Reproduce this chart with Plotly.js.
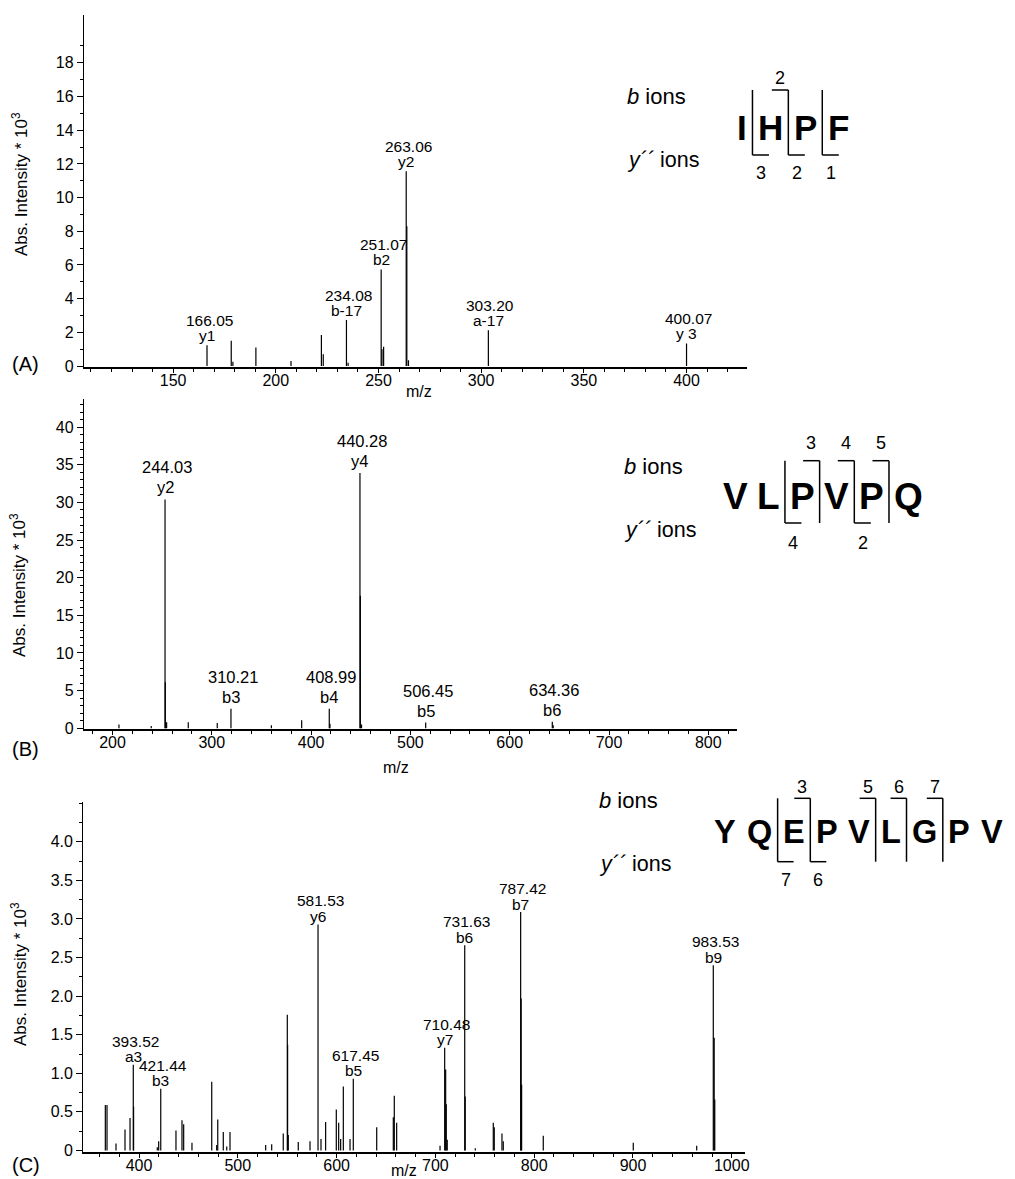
<!DOCTYPE html>
<html>
<head>
<meta charset="utf-8">
<script src="https://cdn.plot.ly/plotly-3.0.1.min.js"></script>
<style>html,body{margin:0;padding:0;background:#fff;}</style>
</head>
<body>
<div id="chart" style="width:1015px;height:1179px;"></div>
<script>
// ---------------- DATA ----------------
// Panel A : IHPF
const mzA  = [166.5, 178.3, 179.1, 190.3, 207.4, 222.2, 223.1, 234.4, 235.2, 251.3, 251.7, 252.5, 263.5, 263.8, 264.6, 303.5, 400.0];
const intA = [1.24, 1.50, 0.25, 1.10, 0.30, 1.84, 0.70, 2.73, 0.20, 5.73, 1.00, 1.15, 11.56, 8.30, 0.35, 2.13, 1.34];
const labMzA  = [166.5, 234.4, 251.3, 263.5, 303.5, 400.0];
const labNumA = ["166.05", "234.08", "251.07", "263.06", "303.20", "400.07"];
const labIonA = ["y1", "b-17", "b2", "y2", "a-17", "y 3"];
const seqA = ["I", "H", "P", "F"];
const bIonsA = [2];
const yIonsA = [3, 2, 1];
const xTicksA = [150, 200, 250, 300, 350, 400];
const yTicksA = [0, 2, 4, 6, 8, 10, 12, 14, 16, 18];

// Panel B : VLPVPQ
const mzB  = [206.5, 239.0, 252.9, 253.2, 254.5, 276.3, 305.5, 319.3, 360.0, 390.5, 418.3, 419.0, 449.2, 449.6, 450.8, 515.4, 642.9, 643.8];
const intB = [0.5, 0.3, 30.4, 6.1, 0.8, 0.8, 0.7, 2.6, 0.4, 1.06, 2.6, 0.6, 33.9, 17.6, 0.5, 0.75, 0.85, 0.4];
const labMzB  = [252.9, 319.3, 418.3, 449.2, 515.4, 642.9];
const labNumB = ["244.03", "310.21", "408.99", "440.28", "506.45", "634.36"];
const labIonB = ["y2", "b3", "b4", "y4", "b5", "b6"];
const seqB = ["V", "L", "P", "V", "P", "Q"];
const bIonsB = [3, 4, 5];
const yIonsB = [4, 2];
const xTicksB = [200, 300, 400, 500, 600, 700, 800];
const yTicksB = [0, 5, 10, 15, 20, 25, 30, 35, 40];

// Panel C : YQEPVLGPV
const mzC  = [365.9, 367.6, 376.7, 385.8, 390.9, 394.2, 394.5, 418.5, 419.9, 422.0, 437.4, 443.5, 445.2, 453.6, 473.6, 478.6, 479.7, 485.3, 488.8, 492.1, 528.2, 534.3, 546.0, 550.1, 550.4, 551.1, 561.2, 573.1, 581.2, 584.2, 588.9, 599.7, 602.1, 604.1, 606.8, 613.6, 616.9, 640.6, 657.4, 658.4, 660.8, 704.7, 709.4, 710.4, 711.0, 712.0, 729.7, 730.2, 740.4, 758.6, 759.6, 767.4, 768.7, 786.3, 786.8, 787.3, 809.2, 900.3, 964.5, 981.3, 982.2, 982.8];
const intC = [0.59, 0.59, 0.09, 0.27, 0.42, 1.11, 0.57, 0.04, 0.12, 0.80, 0.26, 0.39, 0.34, 0.10, 0.89, 0.07, 0.40, 0.24, 0.05, 0.24, 0.07, 0.08, 0.22, 1.76, 1.37, 0.20, 0.11, 0.12, 2.93, 0.15, 0.37, 0.53, 0.36, 0.15, 0.83, 0.15, 0.93, 0.30, 0.43, 0.71, 0.36, 0.06, 1.33, 1.05, 0.60, 0.14, 2.66, 0.70, 0.03, 0.36, 0.30, 0.22, 0.12, 3.09, 1.97, 0.85, 0.19, 0.10, 0.06, 2.40, 1.46, 0.66];
const labMzC  = [394.2, 422.0, 581.2, 616.9, 709.4, 729.7, 786.3, 981.3];
const labNumC = ["393.52", "421.44", "581.53", "617.45", "710.48", "731.63", "787.42", "983.53"];
const labIonC = ["a3", "b3", "y6", "b5", "y7", "b6", "b7", "b9"];
const seqC = ["Y", "Q", "E", "P", "V", "L", "G", "P", "V"];
const bIonsC = [3, 5, 6, 7];
const yIonsC = [7, 6];
const xTicksC = [400, 500, 600, 700, 800, 900, 1000];
const yTicksC = [0, 0.5, 1.0, 1.5, 2.0, 2.5, 3.0, 3.5, 4.0];
const yTickTextC = ["0", "0.5", "1.0", "1.5", "2.0", "2.5", "3.0", "3.5", "4.0"];

const panelNames = ["(A)", "(B)", "(C)"];
const yTitle = "Abs. Intensity * 10<sup>3</sup>";
const xTitle = "m/z";

// ---------------- LAYOUT / STYLE ----------------
const W = 1015, H = 1179;
const FONT = "Liberation Sans, Arial, Helvetica, sans-serif";
const PX = p => p / W, PY = p => 1 - p / H;

const panels = [
  { mz: mzA, it: intA, lm: labMzA, ln: labNumA, li: labIonA, seq: seqA, bI: bIonsA, yI: yIonsA,
    xt: xTicksA, yt: yTicksA, ytt: yTicksA.map(String),
    box: {l: 84, r: 746.7, t: 15, b: 366.7}, xr: [106.6, 429.3], yr: [-0.04, 20.84],
    xminor: 10, yminor: 1, ymax: 19.5, lblFont: 15.5, ionShift: 10, numShift: 25,
    name: {x: 10, y: 364}, mzLbl: {x: 419, y: 391}, yLbl: {x: 20, y: 184},
    sq: {cx0: 742.3, cy: 127.7, font: 35, gap: 10.6, top: 90, bot: 155, hook: 16.5, above: 78.3, below: 173.3, bX: 625, bY: 96, yY: 160} },
  { mz: mzB, it: intB, lm: labMzB, ln: labNumB, li: labIonB, seq: seqB, bI: bIonsB, yI: yIonsB,
    xt: xTicksB, yt: yTicksB, ytt: yTicksB.map(String),
    box: {l: 84, r: 736.7, t: 399.3, b: 729}, xr: [171.3, 828.6], yr: [-0.1, 43.7],
    xminor: 20, yminor: 1, ymax: 43.5, lblFont: 16.5, ionShift: 12, numShift: 32,
    name: {x: 10, y: 749}, mzLbl: {x: 396, y: 767}, yLbl: {x: 18, y: 585},
    sq: {cx0: 735, cy: 496.7, font: 37, gap: 10, top: 460.7, bot: 523, hook: 16.5, above: 443.3, below: 543.3, bX: 621.7, bY: 466.7, yY: 530} },
  { mz: mzC, it: intC, lm: labMzC, ln: labNumC, li: labIonC, seq: seqC, bI: bIonsC, yI: yIonsC,
    xt: xTicksC, yt: yTicksC, ytt: yTickTextC,
    box: {l: 83.3, r: 745, t: 801.7, b: 1152}, xr: [343.6, 1013.4], yr: [-0.02, 4.52],
    xminor: 20, yminor: 0.25, ymax: 4.5, lblFont: 15.5, ionShift: 8, numShift: 23.5,
    name: {x: 10, y: 1165}, mzLbl: {x: 404, y: 1170}, yLbl: {x: 19, y: 974},
    sq: {cx0: 725, cy: 831.7, font: 32.5, gap: 11, top: 798.3, bot: 861.7, hook: 16, above: 786.7, below: 880, bX: 596.7, bY: 800, yY: 864.3} }
];

// bold Arial advance widths (em)
const LW = {I: .278, H: .722, P: .667, F: .611, V: .667, L: .611, Q: .778, Y: .667, E: .667, G: .778};

const traces = [];
const annotations = [];
const shapes = [];
const layout = {
  width: W, height: H, margin: {l: 0, r: 0, t: 0, b: 0}, showlegend: false,
  paper_bgcolor: "#fff", plot_bgcolor: "#fff",
  font: {family: FONT, color: "#000", size: 16}
};

function rangeVals(a, b, s) { const v = []; for (let t = a; t <= b + 1e-9; t += s) v.push(+t.toFixed(4)); return v; }

panels.forEach((p, i) => {
  const sfx = i === 0 ? "" : String(i + 1);
  const xa = "x" + sfx, ya = "y" + sfx;
  // sticks
  const xs = [], ys = [];
  p.mz.forEach((m, k) => { xs.push(m, m, null); ys.push(0, p.it[k], null); });
  traces.push({type: "scatter", mode: "lines", x: xs, y: ys, xaxis: xa, yaxis: ya,
    line: {color: "#000", width: 1.2}, hoverinfo: "skip", connectgaps: false});

  layout["xaxis" + sfx] = {
    domain: [PX(p.box.l), PX(p.box.r)], anchor: ya, range: p.xr, showgrid: false, zeroline: false,
    showline: true, linecolor: "#000", linewidth: 2, ticks: "outside", ticklen: 4, tickwidth: 1, tickcolor: "#000",
    ticklabelstandoff: -6,
    tickmode: "array", tickvals: p.xt, ticktext: p.xt.map(String), tickfont: {size: 16, family: FONT, color: "#000"},
    minor: {tickmode: "array", tickvals: rangeVals(Math.ceil(p.xr[0] / p.xminor) * p.xminor, p.xr[1], p.xminor), ticks: "outside", ticklen: 3, tickcolor: "#000", showgrid: false},
    automargin: false, fixedrange: true
  };
  layout["yaxis" + sfx] = {
    domain: [PY(p.box.b), PY(p.box.t)], anchor: xa, range: p.yr, showgrid: false, zeroline: false,
    showline: true, linecolor: "#000", linewidth: 1.2, ticks: "outside", ticklen: 6, tickwidth: 1, tickcolor: "#000",
    tickmode: "array", tickvals: p.yt, ticktext: p.ytt, tickfont: {size: 16, family: FONT, color: "#000"},
    minor: {tickmode: "array", tickvals: rangeVals(0, p.ymax, p.yminor), ticks: "outside", ticklen: 3, tickcolor: "#000", showgrid: false},
    automargin: false, fixedrange: true
  };

  // peak labels
  p.lm.forEach((m, k) => {
    let best = 0;
    p.mz.forEach((v, j) => { if (Math.abs(v - m) < Math.abs(p.mz[best] - m)) best = j; });
    const h = p.it[best];
    annotations.push({xref: xa, yref: ya, x: m, y: h, text: p.li[k], showarrow: false,
      xanchor: "center", yanchor: "middle", yshift: p.ionShift, font: {size: p.lblFont, family: FONT, color: "#000"}});
    annotations.push({xref: xa, yref: ya, x: m, y: h, text: p.ln[k], showarrow: false,
      xanchor: "center", yanchor: "middle", yshift: p.numShift, xshift: 2, font: {size: p.lblFont, family: FONT, color: "#000"}});
  });

  // panel name, axis titles
  annotations.push({xref: "paper", yref: "paper", x: PX(p.name.x), y: PY(p.name.y), text: panelNames[i], showarrow: false,
    xanchor: "left", yanchor: "middle", font: {size: 20, family: FONT, color: "#000"}});
  annotations.push({xref: "paper", yref: "paper", x: PX(p.mzLbl.x), y: PY(p.mzLbl.y), text: xTitle, showarrow: false,
    xanchor: "center", yanchor: "middle", font: {size: 16, family: FONT, color: "#000"}});
  annotations.push({xref: "paper", yref: "paper", x: PX(p.yLbl.x), y: PY(p.yLbl.y), text: yTitle, showarrow: false,
    textangle: -90, xanchor: "center", yanchor: "middle", font: {size: 17, family: FONT, color: "#000"}});

  // sequence diagram
  const s = p.sq;
  const c = [s.cx0];
  for (let k = 1; k < p.seq.length; k++) c.push(c[k - 1] + (LW[p.seq[k - 1]] + LW[p.seq[k]]) / 2 * s.font + s.gap);
  p.seq.forEach((ch, k) => annotations.push({xref: "paper", yref: "paper", x: PX(c[k]), y: PY(s.cy), text: "<b>" + ch + "</b>",
    showarrow: false, xanchor: "center", yanchor: "middle", font: {size: s.font, family: FONT, color: "#000"}}));
  const boundary = k => ((c[k - 1] + LW[p.seq[k - 1]] / 2 * s.font) + (c[k] - LW[p.seq[k]] / 2 * s.font)) / 2;
  const ln = (x0, y0, x1, y1) => shapes.push({type: "line", xref: "paper", yref: "paper", x0: PX(x0), y0: PY(y0), x1: PX(x1), y1: PY(y1), line: {color: "#000", width: 1.5}});
  const lines = new Set();
  const n = p.seq.length;
  p.bI.forEach(k => {
    const xb = boundary(k);
    lines.add(k);
    ln(xb - s.hook, s.top, xb, s.top);
    annotations.push({xref: "paper", yref: "paper", x: PX(xb - s.hook / 2), y: PY(s.above), text: String(k), showarrow: false,
      xanchor: "center", yanchor: "middle", font: {size: 18, family: FONT, color: "#000"}});
  });
  p.yI.forEach(k => {
    const pos = n - k;
    const xb = boundary(pos);
    lines.add(pos);
    ln(xb, s.bot, xb + s.hook, s.bot);
    annotations.push({xref: "paper", yref: "paper", x: PX(xb + s.hook / 2), y: PY(s.below), text: String(k), showarrow: false,
      xanchor: "center", yanchor: "middle", font: {size: 18, family: FONT, color: "#000"}});
  });
  lines.forEach(pos => { const xb = boundary(pos); ln(xb, s.top, xb, s.bot); });
  annotations.push({xref: "paper", yref: "paper", x: PX(s.bX), y: PY(s.bY), text: "<i>b</i> ions", showarrow: false,
    xanchor: "left", yanchor: "middle", font: {size: 22, family: FONT, color: "#000"}});
  annotations.push({xref: "paper", yref: "paper", x: PX(s.bX), y: PY(s.yY), text: "<i>y´´</i> ions", showarrow: false,
    xanchor: "left", yanchor: "middle", font: {size: 21.5, family: FONT, color: "#000"}});
});

layout.annotations = annotations;
layout.shapes = shapes;

Plotly.newPlot("chart", traces, layout, {displayModeBar: false, staticPlot: true}).then(gd => {
  // drop the empty axis-title placeholders Plotly leaves behind
  gd.querySelectorAll("text").forEach(t => { if (!t.textContent.trim()) t.remove(); });
});
</script>
</body>
</html>
